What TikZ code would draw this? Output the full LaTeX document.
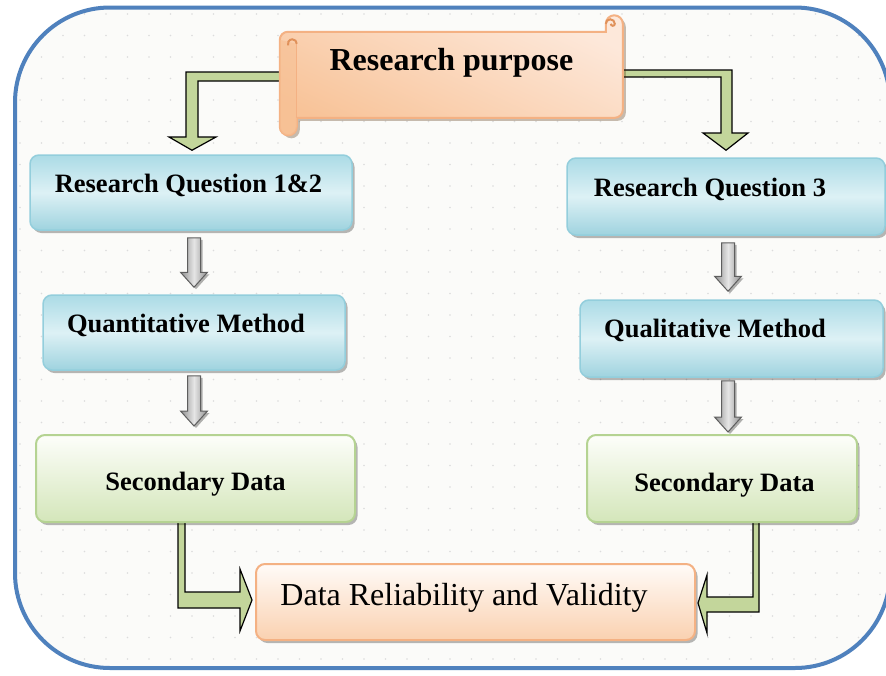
\documentclass[tikz,border=0pt]{standalone}
\usepackage{fontspec}
\setmainfont{Liberation Serif}
\usetikzlibrary{shadows,calc}
\pgfdeclarelayer{bg}
\pgfdeclarelayer{mid}
\pgfsetlayers{bg,mid,main}
\definecolor{frameblue}{HTML}{4F81BD}
\definecolor{framebg}{HTML}{FBFBF9}
\definecolor{dotc}{HTML}{DCDCDC}
\definecolor{bluetop}{HTML}{ABDBE6}
\definecolor{bluemid}{HTML}{DDF1F5}
\definecolor{bluebot}{HTML}{9FD3DF}
\definecolor{blueline}{HTML}{93CEDC}
\definecolor{greentop}{HTML}{FDFEFA}
\definecolor{greenbot}{HTML}{D4E6BA}
\definecolor{greenline}{HTML}{B5D392}
\definecolor{orline}{HTML}{F4B183}
\definecolor{ortop}{HTML}{FFFBF8}
\definecolor{orbot}{HTML}{FAD1B0}
\definecolor{scrT}{HTML}{FDE8DA}
\definecolor{scrB}{HTML}{F8C398}
\definecolor{scrdark}{HTML}{E0915A}
\definecolor{arrgreen}{HTML}{C3D69B}
\definecolor{grayline}{HTML}{5E5E5E}
\definecolor{graydark}{HTML}{8E8E8E}
\definecolor{graylight}{HTML}{E6E6E6}
\newcommand\fbig{\fontsize{32}{36}\selectfont}
\newcommand\fmid{\fontsize{26.5}{30}\selectfont}
\tikzset{
  shd/.style={drop shadow={shadow xshift=2.5pt, shadow yshift=-3pt, fill=black, opacity=0.28}},
  boxbase/.style={rounded corners=9pt, inner sep=0pt, shd, font=\fmid\bfseries, text=black},
  bluebox/.style={boxbase, draw=blueline, line width=1.5pt, top color=bluetop, bottom color=bluebot, middle color=bluemid},
  greenbox/.style={boxbase, draw=greenline, line width=2pt, top color=greentop, bottom color=greenbot},
  orbox/.style={boxbase, draw=orline, line width=2pt, top color=ortop, bottom color=orbot, font=\fbig},
  garrow/.style={fill=arrgreen, draw=black, line width=1.2pt, line join=miter},
  grayarr/.style={draw=grayline, line width=1pt, left color=graydark, right color=graydark, middle color=graylight,
    drop shadow={shadow xshift=2pt, shadow yshift=-2pt, fill=black, opacity=0.3}},
}
\newcommand\gdown[5]{%
  \path (#1,0 |- #2.south) ++(0,#4) coordinate (gt);
  \path (#1,0 |- #3.north) ++(0,-#5) coordinate (gb);
  \draw[grayarr] ($(gt)+(-6.5,0)$) -- ($(gt)+(6.5,0)$) -- ($(gb)+(6.5,-15)$) -- ($(gb)+(13.5,-15)$)
    -- (gb) -- ($(gb)+(-13.5,-15)$) -- ($(gb)+(-6.5,-15)$) -- cycle;}
\begin{document}
\begin{tikzpicture}[x=1pt,y=-1pt]
\useasboundingbox (0,0) rectangle (886,675);
% frame and dotted background
\begin{pgfonlayer}{bg}
  \fill[white] (0,0) rectangle (886,675);
  \fill[framebg, rounded corners=95pt] (15,7.5) rectangle (890,668);
  \begin{scope}
    \clip[rounded corners=95pt] (15,7.5) rectangle (890,668);
    \foreach \i in {0,...,41}{\foreach \j in {0,...,31}{
      \fill[dotc] (20+21.5*\i, 14+21.5*\j) circle (0.9);}}
  \end{scope}
  \draw[frameblue, line width=4pt, rounded corners=95pt] (15,7.5) rectangle (890,668);
\end{pgfonlayer}

% nodes
\node[font=\fbig\bfseries, minimum width=343pt, minimum height=86pt, inner sep=0pt,
      text height=5pt, text depth=15pt] (rp) at (451.5,75) {Research purpose};
\node[bluebox, minimum width=322pt, minimum height=75pt, text height=10pt, text depth=10pt]
  (rq12) at (191,192.5) {\hspace*{-5pt}Research Question 1\&2};
\node[bluebox, minimum width=302pt, minimum height=75pt, text height=10pt, text depth=10pt]
  (quant) at (194,332.5) {\hspace*{-16pt}Quantitative Method};
\node[greenbox, minimum width=319pt, minimum height=87pt, text height=23pt, text depth=0pt]
  (sdL) at (195.5,478.5) {Secondary Data};
\node[bluebox, minimum width=318pt, minimum height=77pt, text height=10pt, text depth=10pt]
  (rq3) at (726,196.5) {\hspace*{-32pt}Research Question 3};
\node[bluebox, minimum width=303pt, minimum height=77pt, text height=8pt, text depth=11pt]
  (qual) at (731.5,338.5) {\hspace*{-33pt}Qualitative Method};
\node[greenbox, minimum width=270pt, minimum height=87pt, text height=25pt, text depth=0pt]
  (sdR) at (722,478.5) {\hspace*{5pt}Secondary Data};
\node[orbox, minimum width=439pt, minimum height=76pt, text height=13pt, text depth=7pt]
  (drv) at (475.5,602) {\hspace*{-23pt}Data Reliability and Validity};

% connectors (below the nodes)
\begin{pgfonlayer}{mid}
  \draw[garrow] (rp.west |- 0,72) -- (186,72) -- (186,137) -- (169,137) -- ($(192,0 |- rq12.north)+(0,-4)$)
    -- (216,137) -- (198,137) -- (198,81) -- (rp.west |- 0,81);
  \draw[garrow] (rp.east |- 0,70) -- (732,70) -- (732,133) -- (748,133) -- ($(726,0 |- rq3.north)+(0,-7)$)
    -- (703,133) -- (721,133) -- (721,77) -- (rp.east |- 0,77);
  \draw[garrow] (178,0 |- sdL.south) -- (178,608) -- (240,608) -- (240,631) -- ($(drv.west |- 0,600)+(-3,0)$)
    -- (240,569) -- (240,592) -- (185,592) -- (185,0 |- sdL.south);
  \draw[garrow] (759,0 |- sdR.south) -- (759,612) -- (707,612) -- (707,633) -- ($(drv.east |- 0,603)+(2,0)$)
    -- (707,575) -- (707,597) -- (753,597) -- (753,0 |- sdR.south);
  % scroll shape behind the title text
  \begin{scope}[shift={(rp.north west)}]
    \fill[black!70!orange, opacity=0.3, shift={(3,3)}] (8,0) arc(270:180:8) -- (0,95) arc(180:0:8.5) -- (17,86) -- (335,86)
      arc(90:0:8) -- (343,-8) arc(0:-180:8.5) -- (326,0) -- cycle;
    \draw[orline, line width=2pt, top color=scrT, bottom color=scrB, shading angle=-25]
      (8,0) arc(270:180:8) -- (0,95) arc(180:0:8.5) -- (17,86) -- (335,86)
      arc(90:0:8) -- (343,-8) arc(0:-180:8.5) -- (326,0) -- cycle;
    \fill[scrB!80!orline, opacity=0.6] (0,8) -- (0,95) arc(180:0:8.5) -- (17,12) -- cycle;
    \draw[orline, line width=1.2pt] (17,12) -- (17,86);
    \draw[scrdark, line width=2pt] (17,12) arc(0:-200:4.5);
    \draw[scrdark, line width=2pt] (326,-8) arc(180:360:4.5) arc(0:180:2);
  \end{scope}
\end{pgfonlayer}

% gray block arrows
\gdown{194}{rq12}{quant}{7}{7}
\gdown{194}{quant}{sdL}{5}{8}
\gdown{728}{rq3}{qual}{7}{8}
\gdown{728}{qual}{sdR}{3}{2}
\end{tikzpicture}
\end{document}
